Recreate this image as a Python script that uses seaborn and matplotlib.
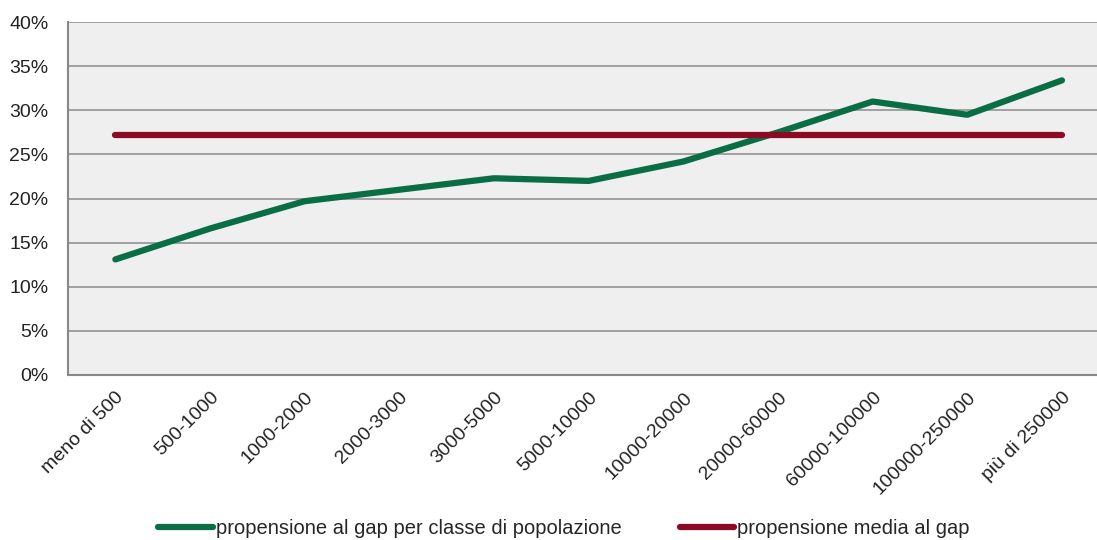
import matplotlib
matplotlib.use('Agg')
import matplotlib.pyplot as plt
import seaborn as sns
import pandas as pd
from matplotlib.ticker import FuncFormatter

classi = ['meno di 500', '500-1000', '1000-2000', '2000-3000', '3000-5000',
          '5000-10000', '10000-20000', '20000-60000', '60000-100000',
          '100000-250000', 'più di 250000']
propensione = [13.1, 16.6, 19.7, 21.0, 22.3, 22.0, 24.2, 27.5, 31.0, 29.5, 33.4]
media = [27.2] * len(classi)

df = pd.DataFrame({'classe': classi, 'prop': propensione, 'media': media})

sns.set_style('white')
plt.rcParams['font.family'] = ['Liberation Sans', 'DejaVu Sans']

fig = plt.figure(figsize=(10.97, 5.40), dpi=100)
ax = fig.add_axes([0.062, 0.3056, 0.938, 0.6534])
ax.set_facecolor('#efefef')

sns.lineplot(data=df, x='classe', y='prop', sort=False, color='#0a6e45', lw=3.8,
             solid_capstyle='round', label='propensione al gap per classe di popolazione', ax=ax)
sns.lineplot(data=df, x='classe', y='media', sort=False, color='#8c0a24', lw=3.8,
             solid_capstyle='round', label='propensione media al gap', ax=ax)

ax.set_ylim(0, 40)
ax.set_xlim(-0.5, 10.37)
ax.set_yticks(range(0, 41, 5))
ax.yaxis.set_major_formatter(FuncFormatter(lambda v, p: f'{int(v)}%'))
ax.grid(axis='y', color='#999999', lw=1.3)
ax.set_axisbelow(True)
for s in ['top', 'right']:
    ax.spines[s].set_visible(False)
for s in ['left', 'bottom']:
    ax.spines[s].set_color('#888888')
    ax.spines[s].set_linewidth(1.5)
ax.tick_params(axis='both', length=0, colors='#222222')
ax.tick_params(axis='y', pad=14, labelsize=14)
ax.tick_params(axis='x', pad=10, labelsize=14)
ax.set_xlabel('')
ax.set_ylabel('')
plt.setp(ax.get_xticklabels(), rotation=45, ha='right', rotation_mode='anchor')

handles, labels = ax.get_legend_handles_labels()
ax.get_legend().remove()
for h in handles:
    h.set_linewidth(4.5)
fig.legend(handles, labels, loc='center', bbox_to_anchor=(0.514, 0.022), ncol=2,
           frameon=False, handlelength=2.7, handletextpad=0.15, columnspacing=2.9,
           prop={'size': 14.5})

plt.savefig('out.png', dpi=100)
